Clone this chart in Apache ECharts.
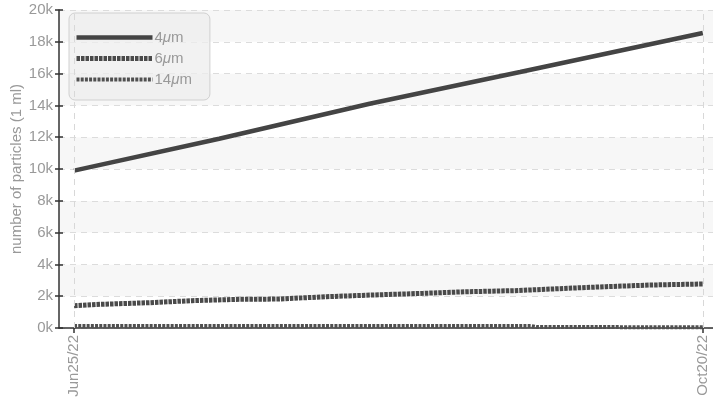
<!DOCTYPE html>
<html>
<head>
<meta charset="utf-8">
<script src="https://cdn.jsdelivr.net/npm/echarts@6/dist/echarts.min.js"></script>
<style>html,body{margin:0;padding:0;background:#fff}#c{width:713px;height:411px}</style>
</head>
<body>
<div id="c"></div>
<script>
// Data (x = days since Jun 25 2022)
const xTickDays = [0, 117];
const xTickLabels = ['Jun25/22', 'Oct20/22'];

const days4 = [0, 27, 55, 83, 117];
const values4 = [9900, 11900, 14100, 16100, 18550];

const days6 = [0, 5, 14, 22, 30, 38, 47, 56, 65, 73, 82, 90, 99, 107, 117];
const values6 = [1400, 1490, 1590, 1720, 1800, 1820, 1970, 2080, 2180, 2280, 2350, 2470, 2600, 2700, 2770];

const days14 = [0, 85, 86, 117];
const values14 = [130, 130, 60, 50];

const seriesNames = ['4μm', '6μm', '14μm'];

const FONT = "'Liberation Sans', Arial, sans-serif";
const zip = (a, b) => a.map((d, i) => [d, b[i]]);

const styles = [
  { color: '#444', width: 4.5, type: 'solid' },
  { color: '#4a4a4a', width: 5, type: [3.5, 1] },
  { color: '#505050', width: 4, type: [3, 1.2] }
];

const chart = echarts.init(document.getElementById('c'));
const legendRich = {
  mu: { fontStyle: 'italic', color: '#999', fontSize: 15, fontFamily: FONT },
  t: { color: '#999', fontSize: 15, fontFamily: FONT }
};
chart.setOption({
  animation: false,
  backgroundColor: '#fff',
  textStyle: { fontFamily: FONT },
  grid: { left: 59, right: 0, top: 10, bottom: 83, containLabel: false, outerBoundsMode: 'none' },
  legend: {
    left: 69, top: 13, orient: 'vertical',
    data: seriesNames.map((n, i) => ({
      name: n,
      itemStyle: { opacity: 0 },
      lineStyle: { width: styles[i].width, type: styles[i].type, color: styles[i].color }
    })),
    itemWidth: 76, itemHeight: 8, itemGap: 6,
    padding: [17, 18, 13, 5],
    backgroundColor: 'rgba(238,238,238,0.75)',
    borderColor: '#d0d0d0', borderWidth: 1, borderRadius: 6,
    formatter: n => '{t|' + n.replace('μm', '') + '}{mu|μ}{t|m}',
    textStyle: { rich: legendRich, padding: [0, 0, 0, -3] },
    selectedMode: false
  },
  xAxis: {
    type: 'value', min: -2.8, max: 118.9,
    axisLine: { show: true, onZero: false, lineStyle: { color: '#333', width: 1.5 } },
    axisTick: { show: true, customValues: xTickDays, length: 5, lineStyle: { color: '#333', width: 1.5 } },
    axisLabel: {
      customValues: xTickDays, rotate: 90, margin: 7,
      color: '#999', fontSize: 15, fontFamily: FONT,
      formatter: v => xTickLabels[xTickDays.indexOf(Math.round(v))] || ''
    },
    splitLine: { show: false }
  },
  yAxis: [{
    type: 'value', min: 0, max: 20000, interval: 2000,
    axisLine: { show: true, onZero: false, lineStyle: { color: '#333', width: 1.5 } },
    axisTick: { show: true, length: 4, lineStyle: { color: '#333', width: 1.5 } },
    axisLabel: { color: '#999', fontSize: 15, fontFamily: FONT, margin: 6,
      formatter: v => (v / 1000) + 'k' },
    splitLine: { show: true, lineStyle: { color: '#dcdcdc', type: [6, 5], width: 1 } },
    splitArea: { show: true, areaStyle: { color: ['#ffffff', '#f7f7f7'] } },
    name: 'number of particles (1 ml)', nameLocation: 'middle', nameGap: 35,
    nameMoveOverlap: false,
    nameTextStyle: { color: '#999', fontSize: 15, fontFamily: FONT }
  }, {
    type: 'value', min: 0, max: 20000, interval: 2000, position: 'left',
    axisLine: { show: false, onZero: false },
    axisTick: { show: true, inside: true, length: 4, lineStyle: { color: '#333', width: 1.5 } },
    axisLabel: { show: false }, splitLine: { show: false }
  }],
  series: [
    {
      name: seriesNames[0], type: 'line', symbol: 'none',
      data: zip(days4, values4),
      lineStyle: { color: styles[0].color, width: styles[0].width },
      itemStyle: { color: styles[0].color },
      markLine: {
        silent: true, symbol: 'none', label: { show: false },
        lineStyle: { color: '#d8d8d8', type: [6, 5], width: 1 },
        data: xTickDays.map(d => ({ xAxis: d }))
      },
      z: 3
    },
    {
      name: seriesNames[1], type: 'line', symbol: 'none',
      data: zip(days6, values6),
      lineStyle: { color: styles[1].color, width: styles[1].width, type: styles[1].type },
      itemStyle: { color: styles[1].color },
      z: 3
    },
    {
      name: seriesNames[2], type: 'line', symbol: 'none',
      data: zip(days14, values14),
      lineStyle: { color: styles[2].color, width: styles[2].width, type: styles[2].type },
      itemStyle: { color: styles[2].color },
      z: 3
    }
  ]
});
</script>
</body>
</html>
